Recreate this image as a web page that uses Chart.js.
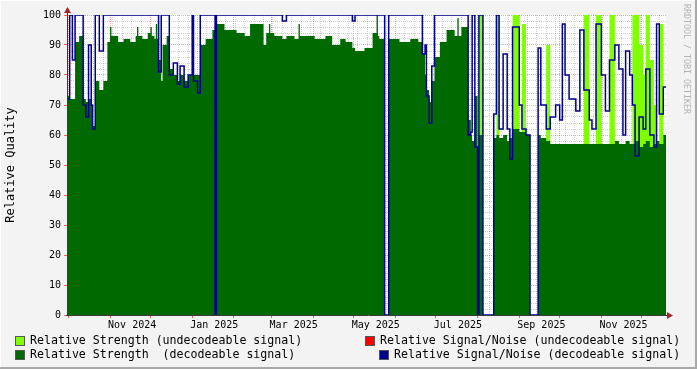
<!DOCTYPE html>
<html>
<head>
<meta charset="utf-8">
<script src="https://cdn.jsdelivr.net/npm/chart.js@4.4.0/dist/chart.umd.min.js"></script>
<style>
  html, body { margin: 0; padding: 0; background: #f3f3f3; }
  #wrap { position: relative; width: 697px; height: 369px; overflow: hidden; background: #f3f3f3; }
  #c { position: absolute; left: 0; top: 0; }
  .edge { position: absolute; }
  .lg { position: absolute; font-family: "DejaVu Sans Mono", monospace; font-size: 11.6px; line-height: 13px; color: #000; white-space: pre; }
  .box { position: absolute; width: 8px; height: 8px; border: 1px solid #555; }
  #credit { position: absolute; left: 682px; top: 4px; font-family: "DejaVu Sans Mono", monospace; font-size: 8.3px; color: #b4b4b4; writing-mode: vertical-rl; }
</style>
</head>
<body>
<div id="wrap">
  <canvas id="c" width="697" height="369"></canvas>
  <div class="edge" style="left:0;top:0;width:697px;height:1px;background:#fff"></div>
  <div class="edge" style="left:0;top:0;width:1px;height:369px;background:#fff"></div>
  <div class="edge" style="left:0;top:367px;width:697px;height:2px;background:#a8a8a8"></div>
  <div class="edge" style="left:695px;top:0;width:2px;height:369px;background:#a8a8a8"></div>

  <div class="box" style="left:15px;top:336px;background:#80ff00"></div>
  <div class="lg" style="left:30px;top:334px">Relative Strength (undecodeable signal)</div>
  <div class="box" style="left:365px;top:336px;background:#ff0000"></div>
  <div class="lg" style="left:380px;top:334px">Relative Signal/Noise (undecodeable signal)</div>
  <div class="box" style="left:15px;top:350px;background:#006a00"></div>
  <div class="lg" style="left:30px;top:348px">Relative Strength  (decodeable signal)</div>
  <div class="box" style="left:379px;top:350px;background:#000090"></div>
  <div class="lg" style="left:394px;top:348px">Relative Signal/Noise (decodeable signal)</div>

  <div id="credit">RRDTOOL / TOBI OETIKER</div>
</div>
<script>
// days counted from 2024-09-30, each value holds until the next day in the list
const days = [0, 2, 4, 6, 9, 12, 14, 16, 18, 19,
  21, 24, 27, 30, 32, 33, 38, 42, 47, 51,
  52, 53, 56, 60, 62, 63, 65, 66, 67, 68,
  70, 71, 74, 76, 79, 82, 84, 87, 90, 93,
  94, 97, 99, 103, 108, 110, 111, 117, 126, 132,
  136, 146, 148, 150, 151, 154, 160, 163, 169, 172,
  173, 177, 184, 192, 197, 203, 207, 212, 214, 221,
  227, 230, 231, 232, 236, 239, 247, 255, 261, 264,
  266, 267, 269, 271, 273, 277, 282, 288, 290, 291,
  293, 298, 300, 301, 303, 305, 306, 309, 317, 319,
  321, 324, 327, 329, 331, 336, 338, 341, 344, 350,
  352, 356, 359, 363, 366, 368, 370, 373, 378, 381,
  384, 388, 390, 393, 397, 400, 403, 407, 410, 413,
  415, 418, 420, 422, 425, 428, 430, 433, 436, 438,
  440, 443, 445];

const strengthDecoded = [73, 72, 72, 91, 93, 72, 71, 72, 70, 63,
  78, 75, 78, 91, 96, 93, 91, 92, 91, 93,
  96, 93, 92, 94, 96, 93, 92, 97, 92, 85,
  78, 90, 93, 82, 80, 78, 80, 78, 80, 80,
  80, 80, 90, 92, 95, 0, 97, 95, 94, 93,
  97, 90, 94, 97, 94, 93, 92, 93, 92, 97,
  93, 93, 92, 93, 90, 92, 91, 89, 88, 89,
  94, 100, 93, 92, 0, 92, 91, 92, 91, 87,
  80, 75, 71, 78, 86, 91, 95, 93, 99, 93,
  96, 65, 60, 58, 73, 0, 60, 0, 59, 60,
  59, 60, 58, 59, 62, 61, 61, 60, 0, 60,
  59, 58, 57, 57, 57, 57, 57, 57, 57, 57,
  57, 57, 57, 57, 57, 57, 57, 58, 57, 57,
  58, 57, 57, 58, 56, 57, 58, 56, 57, 58,
  57, 60, 60];

const snrDecoded = [72, 100, 85, 100, 100, 70, 66, 90, 70, 62,
  100, 88, 100, 100, 100, 100, 100, 100, 100, 100,
  100, 100, 100, 100, 100, 100, 100, 100, 100, 81,
  100, 100, 100, 80, 84, 77, 83, 76, 80, 100,
  78, 74, 100, 100, 100, 0, 100, 100, 100, 100,
  100, 100, 100, 100, 100, 100, 98, 100, 100, 100,
  100, 100, 100, 100, 100, 100, 100, 98, 100, 100,
  100, 100, 100, 100, 0, 100, 100, 100, 100, 87,
  90, 73, 64, 83, 100, 100, 100, 100, 100, 100,
  100, 60, 61, 100, 56, 0, 100, 0, 67, 100,
  62, 87, 62, 52, 96, 70, 62, 60, 0, 89,
  70, 62, 66, 70, 65, 97, 80, 72, 68, 95,
  75, 65, 62, 97, 80, 68, 85, 90, 82, 60,
  88, 80, 70, 53, 66, 62, 82, 60, 56, 97,
  67, 76, 76];

const strengthUndecoded = [0, 0, 0, 0, 0, 0, 0, 0, 0, 0,
  0, 0, 0, 0, 0, 0, 0, 0, 0, 0,
  0, 0, 0, 0, 0, 0, 0, 0, 0, 0,
  0, 0, 0, 0, 0, 0, 0, 0, 0, 0,
  0, 0, 0, 0, 0, 0, 0, 0, 0, 0,
  0, 0, 0, 0, 0, 0, 0, 0, 0, 0,
  0, 0, 0, 0, 0, 0, 0, 0, 0, 0,
  0, 0, 0, 0, 0, 0, 0, 0, 0, 0,
  0, 0, 0, 0, 0, 0, 0, 0, 0, 0,
  0, 0, 0, 0, 0, 0, 100, 0, 0, 100,
  0, 0, 0, 0, 100, 0, 97, 0, 0, 0,
  0, 90, 0, 0, 0, 0, 0, 0, 0, 0,
  100, 0, 0, 100, 0, 0, 100, 0, 0, 0,
  0, 0, 100, 100, 90, 80, 100, 85, 70, 0,
  97, 0, 0];

// month starts (days from 2024-09-30) and their labels
const monthTicks = [1, 32, 62, 93, 124, 152, 183, 213, 244, 274, 305, 336, 366, 397, 427];
const monthLabels = ['', 'Nov 2024', '', 'Jan 2025', '', 'Mar 2025', '', 'May 2025', '', 'Jul 2025', '', 'Sep 2025', '', 'Nov 2025', ''];

const mono = "'DejaVu Sans Mono', monospace";
const minorGrid = 'rgba(120,120,120,0.35)';
const majorGrid = 'rgba(255,0,0,0.38)';

function pts(values) {
  return days.map((d, i) => ({ x: d, y: values[i] }));
}

const frame = {
  id: 'frame',
  beforeDraw(chart) {
    const a = chart.chartArea, c = chart.ctx;
    c.save();
    c.fillStyle = '#ffffff';
    c.fillRect(a.left, a.top, a.right - a.left, a.bottom - a.top);
    c.restore();
  },
  afterDraw(chart) {
    const a = chart.chartArea, c = chart.ctx;
    c.save();
    c.strokeStyle = '#3a3a3a';
    c.lineWidth = 1;
    c.beginPath();
    c.moveTo(a.left + 0.5, a.bottom + 1);
    c.lineTo(a.left + 0.5, a.top - 6);
    c.moveTo(a.left - 1, a.bottom + 0.5);
    c.lineTo(a.right + 5, a.bottom + 0.5);
    c.stroke();
    c.fillStyle = '#a02828';
    c.beginPath();
    c.moveTo(a.left - 3, a.top - 2);
    c.lineTo(a.left + 4, a.top - 2);
    c.lineTo(a.left + 0.5, a.top - 8);
    c.closePath();
    c.fill();
    c.beginPath();
    c.moveTo(a.right + 1, a.bottom - 3);
    c.lineTo(a.right + 1, a.bottom + 4);
    c.lineTo(a.right + 7, a.bottom + 0.5);
    c.closePath();
    c.fill();
    c.restore();
  }
};

new Chart(document.getElementById('c'), {
  type: 'line',
  data: {
    datasets: [
      {
        label: 'Relative Signal/Noise (decodeable signal)',
        data: pts(snrDecoded),
        stepped: true,
        borderColor: '#000090',
        borderWidth: 1.5,
        fill: false,
        pointRadius: 0,
        order: 0
      },
      {
        label: 'Relative Strength  (decodeable signal)',
        data: pts(strengthDecoded),
        stepped: true,
        borderWidth: 0,
        borderColor: 'rgba(0,0,0,0)',
        backgroundColor: '#006a00',
        fill: 'origin',
        pointRadius: 0,
        order: 1
      },
      {
        label: 'Relative Strength (undecodeable signal)',
        data: pts(strengthUndecoded),
        stepped: true,
        borderWidth: 0,
        borderColor: 'rgba(0,0,0,0)',
        backgroundColor: '#80ff00',
        fill: 'origin',
        pointRadius: 0,
        order: 2
      }
    ]
  },
  options: {
    responsive: false,
    animation: false,
    events: [],
    layout: { padding: { top: 15, right: 31, left: 0, bottom: 0 } },
    plugins: { legend: { display: false }, tooltip: { enabled: false } },
    scales: {
      x: {
        type: 'linear',
        min: 0,
        max: 445,
        z: 1,
        afterFit(scale) { scale.height = 54; },
        afterBuildTicks(scale) {
          const t = [];
          for (let d = 6; d < 445; d += 7) {
            if (!monthTicks.includes(d)) t.push(d);
          }
          monthTicks.forEach(d => t.push(d));
          t.sort((a, b) => a - b);
          scale.ticks = t.map(v => ({ value: v }));
        },
        ticks: {
          autoSkip: false,
          maxRotation: 0,
          minRotation: 0,
          align: 'start',
          labelOffset: -2,
          padding: 1,
          color: '#000',
          font: { family: mono, size: 10 },
          callback(v) {
            const i = monthTicks.indexOf(v);
            return i >= 0 ? monthLabels[i] : '';
          }
        },
        grid: {
          color: ctx => monthTicks.includes(ctx.tick && ctx.tick.value) ? majorGrid : minorGrid,
          tickColor: ctx => monthTicks.includes(ctx.tick && ctx.tick.value) ? 'rgba(255,0,0,0.6)' : 'rgba(0,0,0,0)',
          tickLength: 3,
          tickBorderDash: [],
          lineWidth: 1
        },
        border: { display: false, dash: [1, 1] }
      },
      y: {
        min: 0,
        max: 100,
        z: 1,
        afterFit(scale) { scale.width = 67; },
        ticks: {
          stepSize: 2,
          autoSkip: false,
          padding: 3,
          color: '#000',
          font: { family: mono, size: 10 },
          callback: v => (v % 10 === 0 ? v : '')
        },
        grid: {
          color: ctx => (ctx.tick && ctx.tick.value % 10 === 0) ? majorGrid : minorGrid,
          tickColor: ctx => (ctx.tick && ctx.tick.value % 10 === 0) ? 'rgba(255,0,0,0.6)' : 'rgba(0,0,0,0)',
          tickLength: 3,
          tickBorderDash: [],
          lineWidth: 1
        },
        border: { display: false, dash: [1, 1] },
        title: {
          display: true,
          text: 'Relative Quality',
          color: '#000',
          font: { family: mono, size: 12 },
          padding: { top: 4, bottom: 0 }
        }
      }
    }
  },
  plugins: [frame]
});
</script>
</body>
</html>
